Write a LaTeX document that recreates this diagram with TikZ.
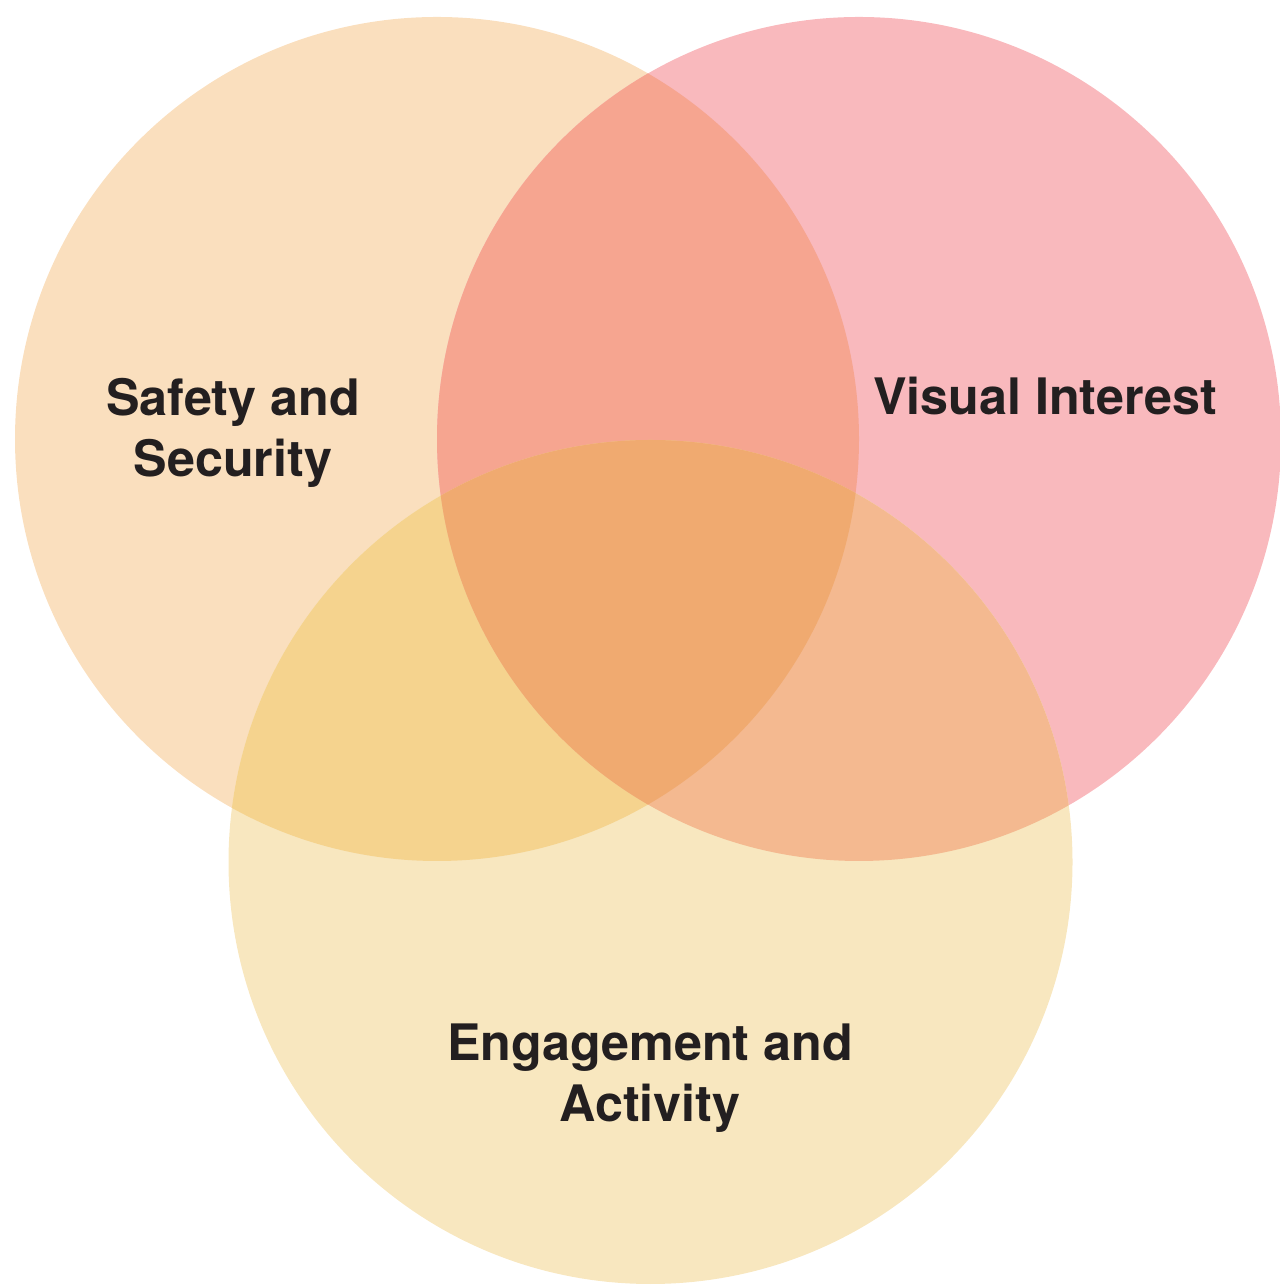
\documentclass[tikz,border=0pt]{standalone}
\usepackage{fontspec}
\setmainfont{TeX Gyre Heros}
\definecolor{vnL}{RGB}{250,223,190}
\definecolor{vnR}{RGB}{249,185,189}
\definecolor{vnB}{RGB}{248,231,191}
\definecolor{vnLR}{RGB}{246,165,144}
\definecolor{vnLB}{RGB}{245,211,142}
\definecolor{vnRB}{RGB}{244,185,144}
\definecolor{vnLRB}{RGB}{240,170,112}
\definecolor{ink}{RGB}{35,31,32}

\begin{document}
\begin{tikzpicture}[
    lab/.style={font=\bfseries\fontsize{14.3}{17.2}\selectfont, color=ink,
                align=center, inner sep=0pt}]
  % pinned box: same size as the source figure
  \useasboundingbox (0,0) rectangle (12.79,12.88);
  \def\r{4.22}
  \coordinate (cL) at (4.37,8.49);
  \coordinate (cR) at (8.59,8.49);
  \coordinate (cB) at (6.505,4.26);
  % --- the three discs ------------------------------------------------------
  \fill[vnL] (cL) circle (\r);
  \fill[vnR] (cR) circle (\r);
  \fill[vnB] (cB) circle (\r);
  % --- pairwise overlaps ----------------------------------------------------
  \begin{scope} \clip (cL) circle (\r); \fill[vnLR] (cR) circle (\r); \end{scope}
  \begin{scope} \clip (cL) circle (\r); \fill[vnLB] (cB) circle (\r); \end{scope}
  \begin{scope} \clip (cR) circle (\r); \fill[vnRB] (cB) circle (\r); \end{scope}
  % --- the middle -----------------------------------------------------------
  \begin{scope}
    \clip (cL) circle (\r); \clip (cR) circle (\r);
    \fill[vnLRB] (cB) circle (\r);
  \end{scope}
  % --- labels ---------------------------------------------------------------
  \node[lab] (safety) at (2.33,8.55) {Safety and\\Security};
  \node[lab, anchor=base] (visual) at (10.45,8.73) {Visual Interest};
  \node[lab] (engage) at (6.50,2.10) {Engagement and\\Activity};
\end{tikzpicture}
\end{document}
